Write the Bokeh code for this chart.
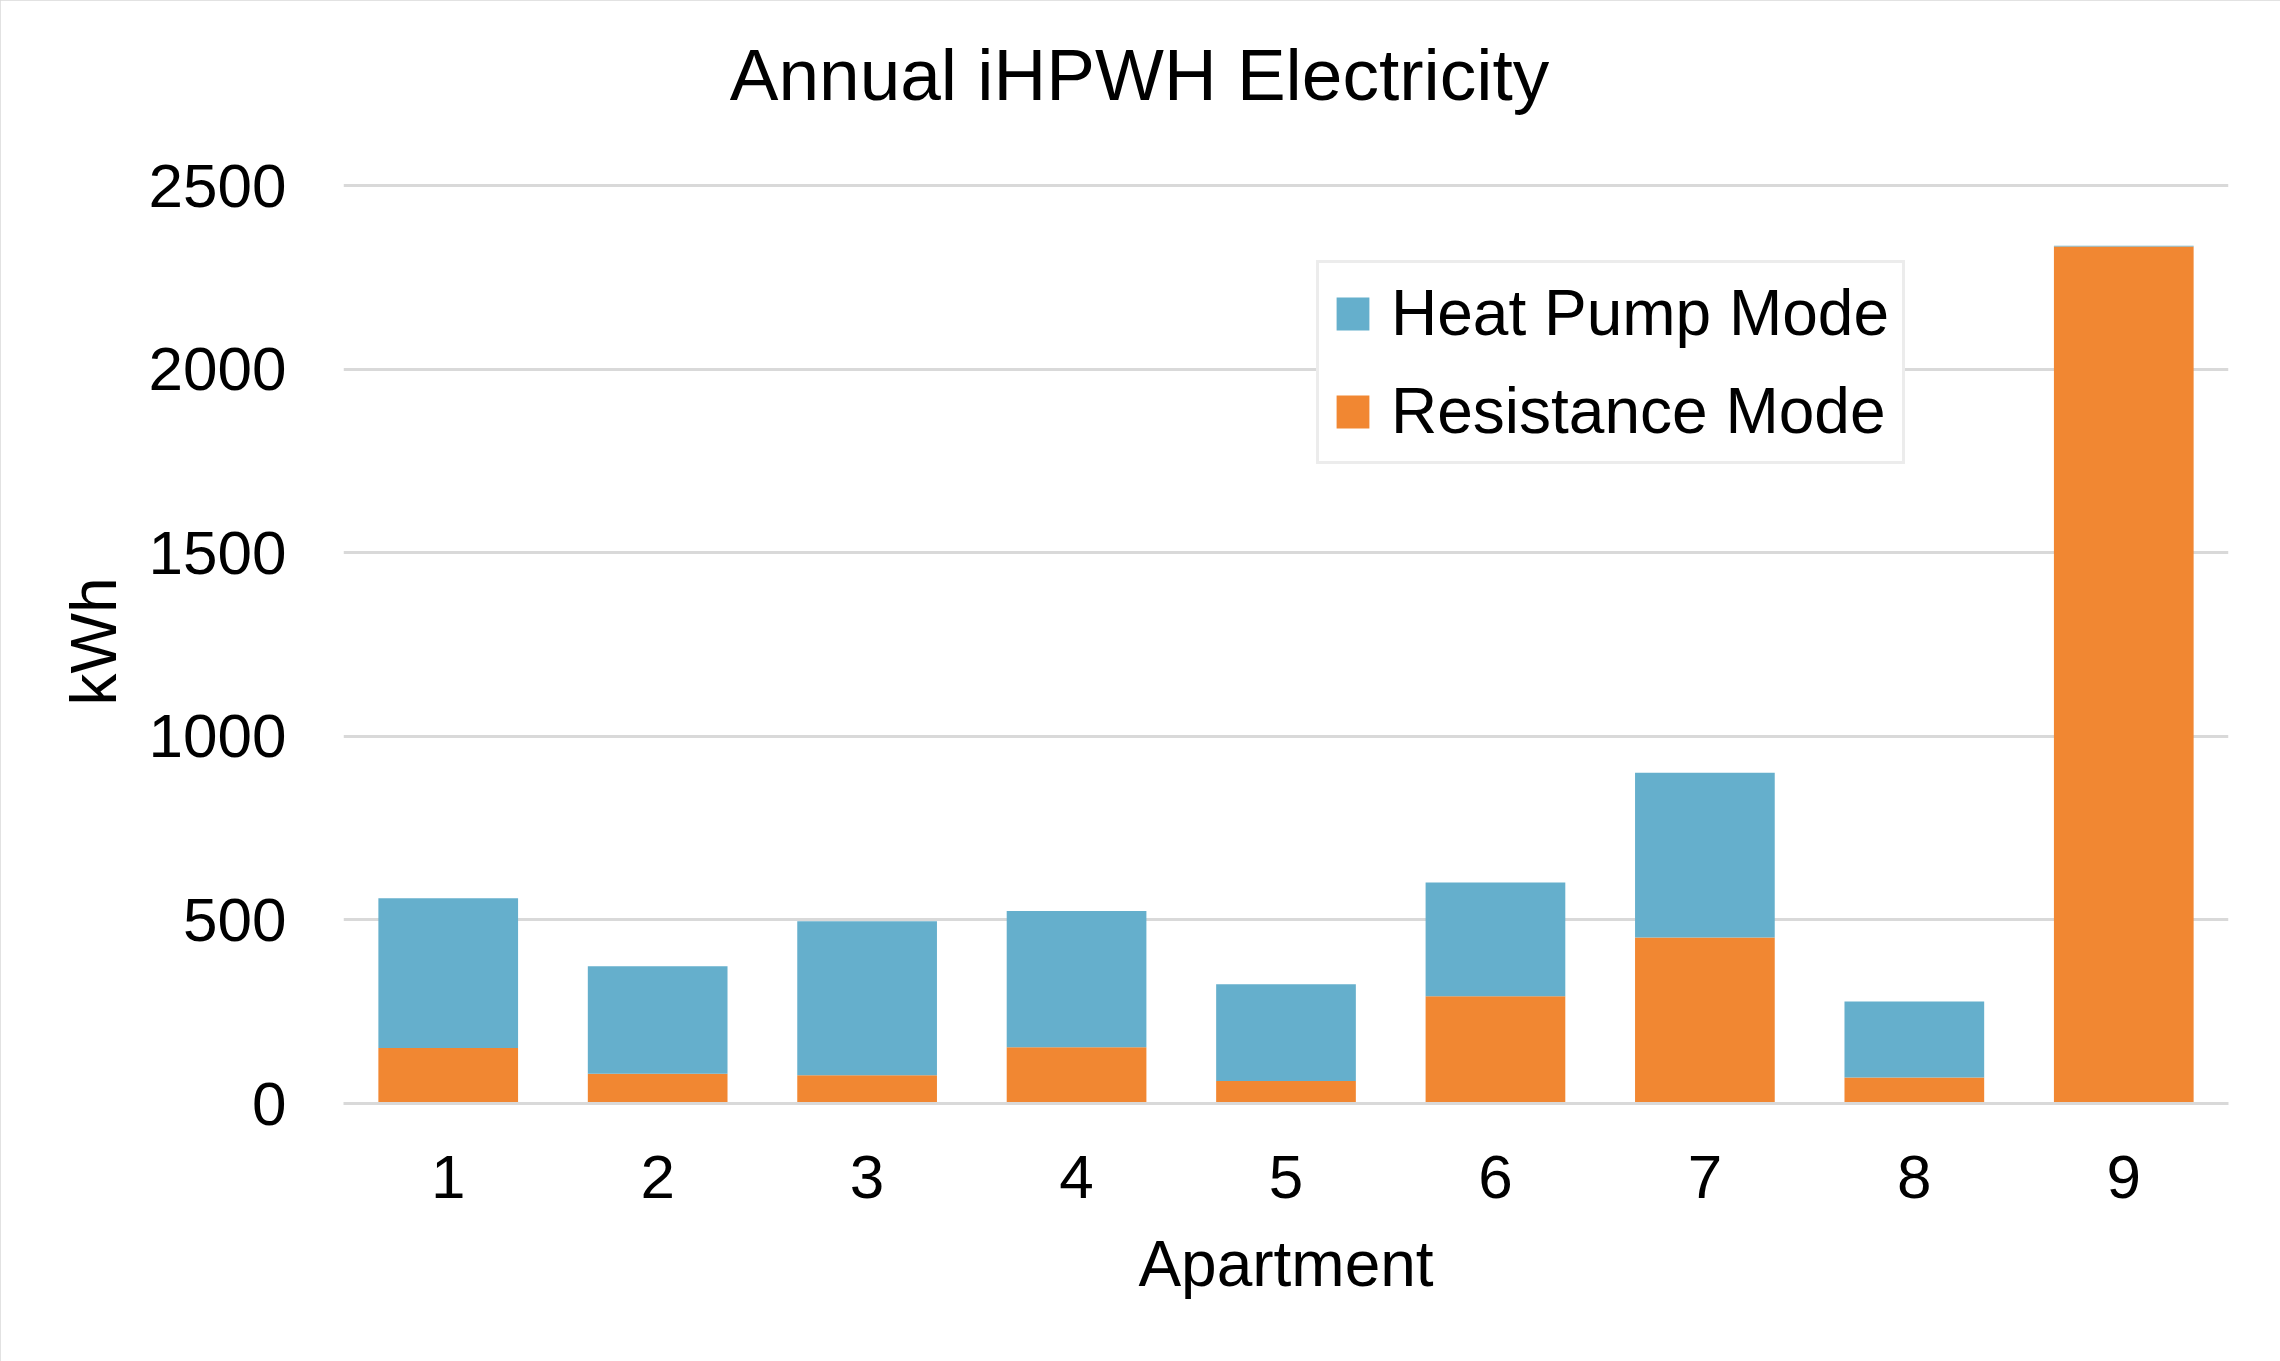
from bokeh.plotting import figure
from bokeh.models import (ColumnDataSource, FactorRange, Range1d, Legend,
                          LegendItem, Label, Title, FixedTicker)
from bokeh.embed import file_html
from bokeh.resources import INLINE

# Annual electricity use per apartment, split by operating mode (kWh)
apartments = ["1", "2", "3", "4", "5", "6", "7", "8", "9"]
resistance_kwh = [151, 81, 77, 153, 61, 292, 452, 71, 2334]
heat_pump_kwh = [408, 293, 419, 371, 264, 310, 449, 207, 2]
y_ticks = [0, 500, 1000, 1500, 2000, 2500]

BLUE = "#65AFCC"
ORANGE = "#F18732"
GRID = "#D9D9D9"
FONT = "Liberation Sans"

W, H = 2280, 1361
FRAME_LEFT, FRAME_RIGHT = 343, 52
FRAME_TOP, FRAME_BOTTOM = 20, 258
TOP_TICK_PX = 185          # canvas row of the highest gridline

# the frame reaches up to hold the title; gridlines stop at the top tick
y_end = y_ticks[-1] * (H - FRAME_BOTTOM - FRAME_TOP) / (H - FRAME_BOTTOM - TOP_TICK_PX)

source = ColumnDataSource(dict(
    apartment=apartments,
    resistance=resistance_kwh,
    heat_pump=heat_pump_kwh,
))

p = figure(
    width=W, height=H,
    x_range=FactorRange(*apartments, range_padding=0),
    y_range=Range1d(0, y_end),
    output_backend="svg", toolbar_location=None,
    min_border_left=FRAME_LEFT, min_border_right=FRAME_RIGHT,
    min_border_top=FRAME_TOP, min_border_bottom=FRAME_BOTTOM,
)
p.outline_line_color = None
p.background_fill_color = "white"
p.border_fill_color = "white"
p.styles = {"outline": f"3px solid {GRID}", "outline-offset": "-3px"}

r_res, r_hp = p.vbar_stack(
    ["resistance", "heat_pump"], x="apartment", width=0.667,
    color=[ORANGE, BLUE], line_color=None, source=source,
)

# grid
p.xgrid.grid_line_color = None
p.ygrid.grid_line_color = GRID
p.ygrid.grid_line_width = 3
p.yaxis.ticker = FixedTicker(ticks=y_ticks)

# axes
p.yaxis.axis_line_color = None
p.yaxis.major_tick_line_color = None
p.yaxis.minor_tick_line_color = None
p.yaxis.major_tick_out = 0
p.yaxis.major_label_standoff = 57

p.xaxis.axis_line_color = GRID
p.xaxis.axis_line_width = 3
p.xaxis.major_tick_line_color = None
p.xaxis.major_tick_out = 0
p.xaxis.major_label_standoff = 52
p.xaxis.axis_label = "Apartment"
p.xaxis.axis_label_standoff = 27

for ax in (p.xaxis, p.yaxis):
    ax.major_label_text_font = FONT
    ax.major_label_text_font_size = "62px"
    ax.major_label_text_color = "black"
    ax.axis_label_text_font = FONT
    ax.axis_label_text_font_size = "64px"
    ax.axis_label_text_font_style = "normal"
    ax.axis_label_text_color = "black"

# y-axis caption, centred on the 0..2500 span of the value axis
kwh_caption = Title(
    text="kWh", align="left", offset=398, standoff=31,
    text_font=FONT, text_font_size="64px", text_font_style="normal",
    text_color="black",
)
p.add_layout(kwh_caption, "left")

# chart title, centred on the canvas
title = Label(
    x=W / 2 - FRAME_LEFT - 1, y=1029, x_units="screen", y_units="screen",
    text="Annual iHPWH Electricity", text_align="center",
    text_baseline="alphabetic", text_font=FONT, text_font_size="73px",
    text_color="black",
)
p.add_layout(title)

legend = Legend(
    items=[LegendItem(label="Heat Pump Mode", renderers=[r_hp]),
           LegendItem(label="Resistance Mode", renderers=[r_res])],
    location=(973, 639),
    border_line_color=GRID, border_line_width=3,
    background_fill_color="white", background_fill_alpha=1,
    padding=13, spacing=24, margin=0,
    glyph_width=41, glyph_height=41, label_standoff=18,
    label_text_font=FONT, label_text_font_size="64px",
    label_text_color="black",
)
p.add_layout(legend)

open("out.html", "w").write(file_html(p, INLINE))
